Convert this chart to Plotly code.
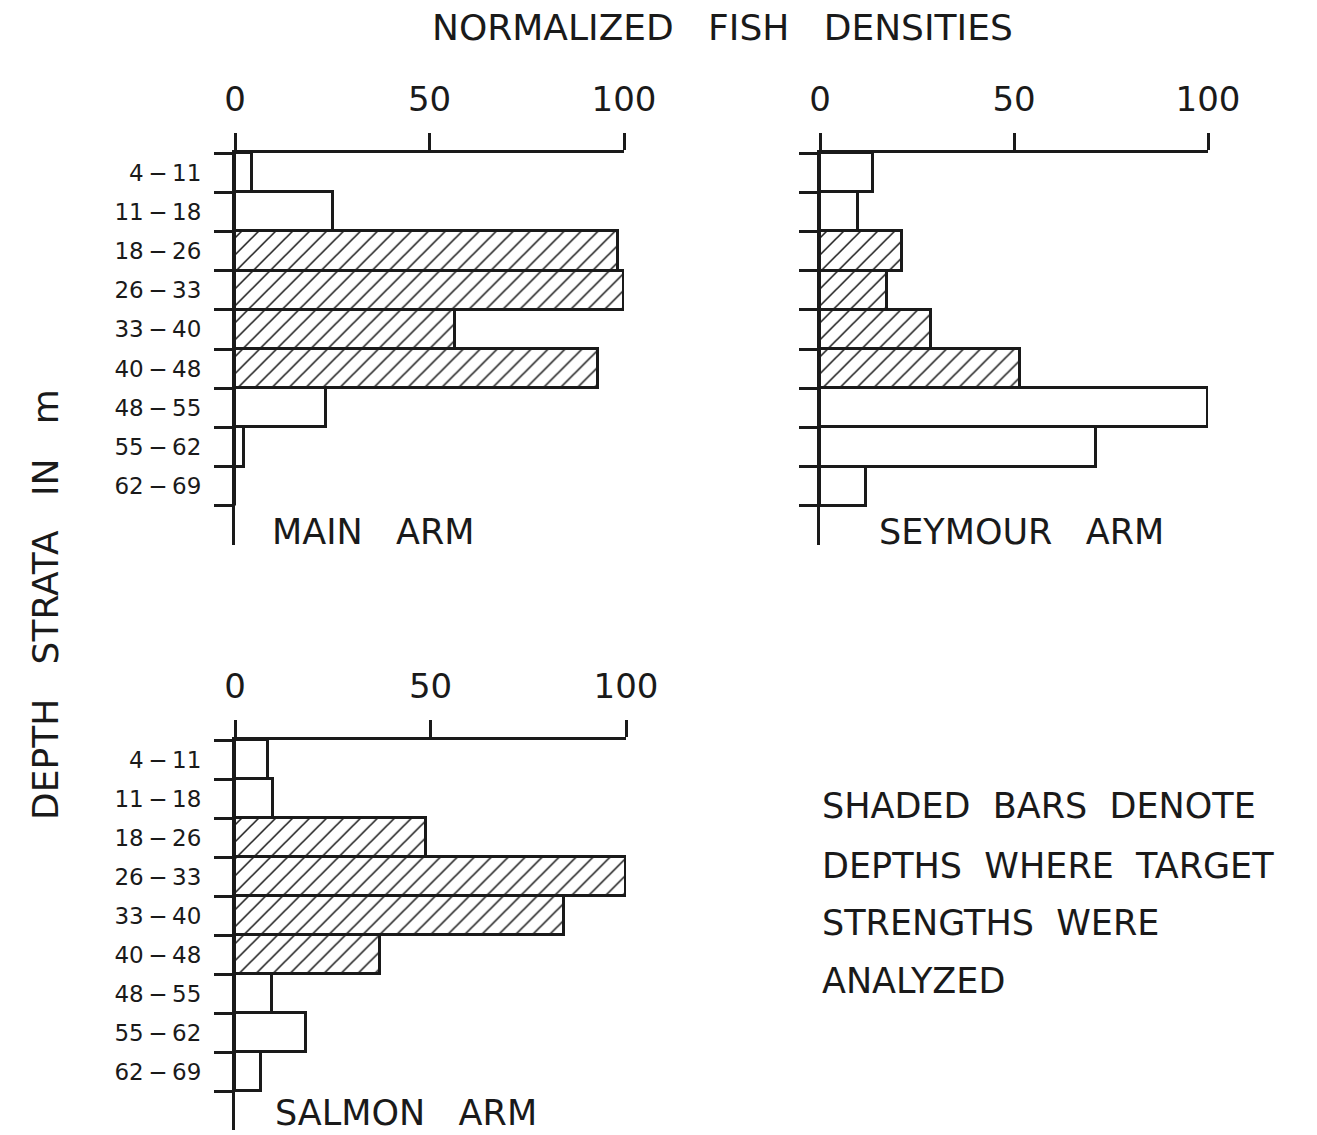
import plotly.graph_objects as go

# ---------------- data ----------------
categories = ["4 − 11", "11 − 18", "18 − 26", "26 − 33", "33 − 40",
              "40 − 48", "48 − 55", "55 − 62", "62 − 69"]
main_arm = [4.4, 25.3, 98.5, 100, 56.5, 93.3, 23.4, 2.3, 0]
seymour_arm = [13.6, 9.9, 21.1, 17.2, 28.6, 51.6, 100, 71.1, 11.8]
salmon_arm = [8.4, 9.6, 48.8, 100, 84.2, 37.2, 9.4, 18.2, 6.7]
shaded = [False, False, True, True, True, True, False, False, False]
x_ticks = [0, 50, 100]
panel_names = ["MAIN ARM", "SEYMOUR ARM", "SALMON ARM"]
legend_lines = ["SHADED BARS DENOTE", "DEPTHS WHERE TARGET",
                "STRENGTHS WERE", "ANALYZED"]

# page body has an 8px default margin, so the figure is drawn offset by 8px
OFF = 8
W, H = 1317 - OFF, 1135 - OFF
FONT = "DejaVu Sans"
INK = "#1a1a1a"


def px_x(p):
    return (p - OFF) / W


def px_y(p):
    return 1 - (p - OFF) / H


def spaced(s, n=3):
    return s.replace(" ", "\u00a0" * n)


fig = go.Figure()

panels = [
    (main_arm, "x", "y", (235, 624), (153, 545), True),
    (seymour_arm, "x2", "y2", (820, 1208), (153, 545), False),
    (salmon_arm, "x3", "y3", (235, 626), (740, 1130), True),
]

pattern_shapes = ["/" if s else "" for s in shaded]
tick_text = [c.replace(" ", "\u2009") for c in categories]

layout_axes = {}
for i, (vals, xa, ya, xr, yr, show_lbl) in enumerate(panels):
    fig.add_trace(go.Bar(
        x=vals, y=categories, orientation="h", width=1,
        xaxis=xa, yaxis=ya, showlegend=False,
        marker=dict(
            color="white",
            line=dict(color=INK, width=3),
            pattern=dict(shape=pattern_shapes, fgcolor=INK, bgcolor="white",
                         size=12, solidity=0.13, fillmode="replace"),
        ),
    ))
    suffix = "" if i == 0 else str(i + 1)
    layout_axes["xaxis" + suffix] = dict(
        domain=[px_x(xr[0]), px_x(xr[1])],
        anchor=ya, side="top", range=[0, 100], automargin=False,
        tickmode="array", tickvals=x_ticks, ticktext=[str(t) for t in x_ticks],
        ticks="outside", ticklen=17, tickwidth=3, tickcolor=INK,
        showline=True, linewidth=3, linecolor=INK,
        showgrid=False, zeroline=False,
        tickfont=dict(family=FONT, size=34, color=INK),
        ticklabelstandoff=8,
    )
    layout_axes["yaxis" + suffix] = dict(
        domain=[px_y(yr[1]), px_y(yr[0])],
        anchor=xa, type="category", automargin=False,
        categoryorder="array", categoryarray=categories,
        tickmode="array", tickvals=categories, ticktext=tick_text,
        range=[9.5, -0.5],
        tickson="boundaries", ticks="outside", ticklen=18, tickwidth=3,
        tickcolor=INK, showline=True, linewidth=3, linecolor=INK,
        showgrid=False, zeroline=False, showticklabels=show_lbl,
        tickfont=dict(family=FONT, size=23, color=INK),
        ticklabelstandoff=26,
    )

annotations = []
annotations.append(dict(
    text=spaced("NORMALIZED FISH DENSITIES"), x=px_x(722), y=px_y(28),
    xref="paper", yref="paper", showarrow=False,
    font=dict(family=FONT, size=36, color=INK), xanchor="center", yanchor="middle"))
annotations.append(dict(
    text=spaced("DEPTH STRATA IN m"), x=px_x(45), y=px_y(605),
    xref="paper", yref="paper", showarrow=False, textangle=-90,
    font=dict(family=FONT, size=36, color=INK), xanchor="center", yanchor="middle"))
for name, (xp, yp) in zip(panel_names, [(270, 532), (877, 532), (273, 1113)]):
    annotations.append(dict(
        text=spaced(name), x=px_x(xp), y=px_y(yp),
        xref="paper", yref="paper", showarrow=False,
        font=dict(family=FONT, size=35, color=INK), xanchor="left", yanchor="middle"))
for line, yp in zip(legend_lines, [806, 866, 923, 981]):
    annotations.append(dict(
        text=spaced(line, 2), x=px_x(820), y=px_y(yp),
        xref="paper", yref="paper", showarrow=False,
        font=dict(family=FONT, size=35, color=INK), xanchor="left", yanchor="middle"))

fig.update_layout(
    width=W, height=H,
    margin=dict(l=0, r=0, t=0, b=0, autoexpand=False),
    paper_bgcolor="white", plot_bgcolor="white",
    annotations=annotations,
    bargap=0,
    **layout_axes,
)

fig.write_html("out.html")
